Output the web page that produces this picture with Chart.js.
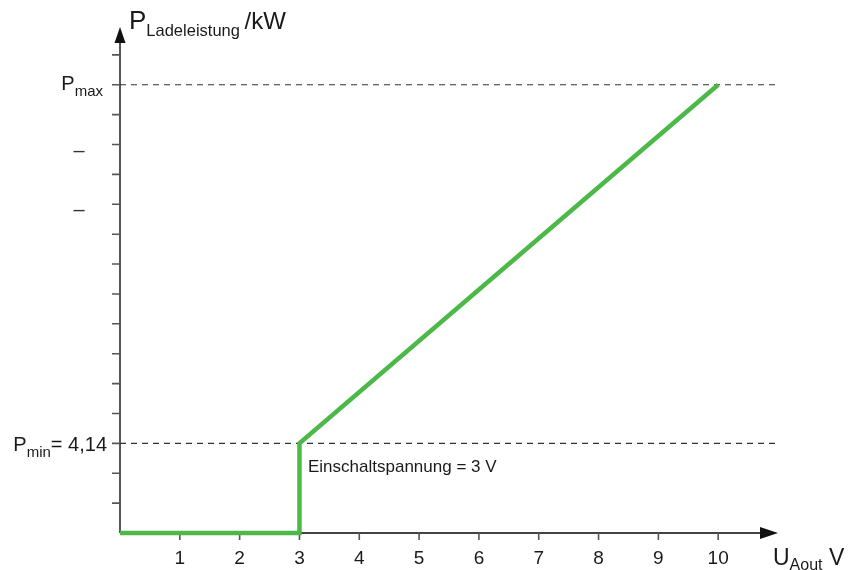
<!DOCTYPE html>
<html>
<head>
    <title>Ladeleistung</title>
    <script src="https://cdn.jsdelivr.net/npm/chart.js"></script>
    <style>
        body { margin: 0; background: #fff; }
        #wrap { width: 849px; height: 570px; }
    </style>
</head>
<body>
    <div id="wrap"><canvas id="chart"></canvas></div>

    <script>
        // Kennlinie: U_Aout (V) -> P (Skalenteile)
        const voltage = [0, 3, 3, 10];
        const power = [0, 0, 3, 15];

        // Referenzlinien P_min und P_max
        const pMinLevel = 3;
        const pMaxLevel = 15;

        // Achsen
        const xTicks = [1, 2, 3, 4, 5, 6, 7, 8, 9, 10];
        const yTicks = [1, 2, 3, 4, 5, 6, 7, 8, 9, 10, 11, 12, 13, 14, 15, 16];
        const xMax = 11;
        const yMax = 17;
        const dashLabelValues = [12.76, 10.79];

        const FONT = '"Liberation Sans", Arial, sans-serif';
        const GREEN = '#4cb848';
        const AXIS = '#444';
        const TEXT = '#1a1a1a';

        // Text mit tiefgestelltem Teil schreiben
        function drawParts(ctx, x, y, parts) {
            parts.forEach(p => {
                ctx.font = p.size + 'px ' + FONT;
                ctx.fillText(p.text, x, y + (p.dy || 0));
                x += ctx.measureText(p.text).width;
            });
            return x;
        }

        function partsWidth(ctx, parts) {
            let w = 0;
            parts.forEach(p => {
                ctx.font = p.size + 'px ' + FONT;
                w += ctx.measureText(p.text).width;
            });
            return w;
        }

        const axesPlugin = {
            id: 'axes',
            beforeDatasetsDraw(chart) {
                const ctx = chart.ctx;
                const xs = chart.scales.x;
                const ys = chart.scales.y;
                const x0 = xs.getPixelForValue(0);
                const y0 = ys.getPixelForValue(0);
                const xEnd = xs.getPixelForValue(xMax);
                const yEnd = ys.getPixelForValue(yMax) + 2;

                ctx.save();
                ctx.strokeStyle = AXIS;
                ctx.fillStyle = '#111';
                ctx.lineWidth = 1.8;

                // x-Achse mit Pfeil
                ctx.beginPath();
                ctx.moveTo(x0, y0);
                ctx.lineTo(xEnd - 16, y0);
                ctx.stroke();
                ctx.beginPath();
                ctx.moveTo(xEnd, y0);
                ctx.lineTo(xEnd - 18, y0 - 6);
                ctx.lineTo(xEnd - 18, y0 + 6);
                ctx.closePath();
                ctx.fill();

                // y-Achse mit Pfeil
                ctx.beginPath();
                ctx.moveTo(x0, y0);
                ctx.lineTo(x0, yEnd + 14);
                ctx.stroke();
                ctx.beginPath();
                ctx.moveTo(x0, yEnd);
                ctx.lineTo(x0 - 5.5, yEnd + 16);
                ctx.lineTo(x0 + 5.5, yEnd + 16);
                ctx.closePath();
                ctx.fill();

                // Teilstriche
                ctx.strokeStyle = '#555';
                ctx.lineWidth = 1.6;
                ctx.beginPath();
                xTicks.forEach(v => {
                    const px = xs.getPixelForValue(v);
                    ctx.moveTo(px, y0);
                    ctx.lineTo(px, y0 + 7);
                });
                yTicks.forEach(v => {
                    const py = ys.getPixelForValue(v);
                    ctx.moveTo(x0 - 8, py);
                    ctx.lineTo(x0, py);
                });
                ctx.stroke();

                // x-Beschriftung
                ctx.fillStyle = TEXT;
                ctx.textAlign = 'center';
                ctx.textBaseline = 'alphabetic';
                ctx.font = '19px ' + FONT;
                xTicks.forEach(v => {
                    ctx.fillText(String(v), xs.getPixelForValue(v), y0 + 31);
                });

                // y-Beschriftung
                ctx.textAlign = 'left';
                const pMax = [{ text: 'P', size: 20 }, { text: 'max', size: 15, dy: 6 }];
                const pMaxY = ys.getPixelForValue(pMaxLevel);
                drawParts(ctx, 103 - partsWidth(ctx, pMax), pMaxY + 5, pMax);

                const pMin = [{ text: 'P', size: 20 }, { text: 'min', size: 15, dy: 6 }, { text: '= 4,14', size: 20 }];
                const pMinY = ys.getPixelForValue(pMinLevel);
                drawParts(ctx, 107 - partsWidth(ctx, pMin), pMinY + 8, pMin);

                ctx.textAlign = 'center';
                ctx.textBaseline = 'middle';
                ctx.font = '20px ' + FONT;
                ctx.fillStyle = '#333';
                dashLabelValues.forEach(v => {
                    ctx.fillText('\u2013', 79, ys.getPixelForValue(v));
                });

                // Achsentitel
                ctx.fillStyle = TEXT;
                ctx.textAlign = 'left';
                ctx.textBaseline = 'alphabetic';
                drawParts(ctx, 129, 29, [
                    { text: 'P', size: 26 },
                    { text: 'Ladeleistung ', size: 16.5, dy: 7 },
                    { text: '/kW', size: 24 }
                ]);
                drawParts(ctx, 773, 565, [
                    { text: 'U', size: 23 },
                    { text: 'Aout', size: 16, dy: 5 },
                    { text: ' V', size: 23 }
                ]);

                // Anmerkung
                ctx.font = '17px ' + FONT;
                ctx.fillText('Einschaltspannung = 3 V', 308, 472);
                ctx.restore();
            }
        };

        const curve = voltage.map((v, i) => ({ x: v, y: power[i] }));

        new Chart(document.getElementById('chart'), {
            type: 'line',
            data: {
                datasets: [
                    {
                        data: curve,
                        borderColor: GREEN,
                        borderWidth: 4.5,
                        pointRadius: 0,
                        tension: 0,
                        clip: false
                    },
                    {
                        data: [{ x: 0, y: pMaxLevel }, { x: xMax, y: pMaxLevel }],
                        borderColor: '#333',
                        borderWidth: 1.2,
                        borderDash: [6, 5],
                        pointRadius: 0,
                        clip: false
                    },
                    {
                        data: [{ x: 0, y: pMinLevel }, { x: xMax, y: pMinLevel }],
                        borderColor: '#333',
                        borderWidth: 1.2,
                        borderDash: [6, 5],
                        pointRadius: 0,
                        clip: false
                    }
                ]
            },
            options: {
                responsive: true,
                maintainAspectRatio: false,
                animation: false,
                layout: {
                    padding: { left: 120, right: 71, top: 25, bottom: 37 }
                },
                plugins: {
                    legend: { display: false },
                    tooltip: { enabled: false }
                },
                scales: {
                    x: { type: 'linear', min: 0, max: xMax, display: false },
                    y: { type: 'linear', min: 0, max: yMax, display: false }
                }
            },
            plugins: [axesPlugin]
        });
    </script>
</body>
</html>
